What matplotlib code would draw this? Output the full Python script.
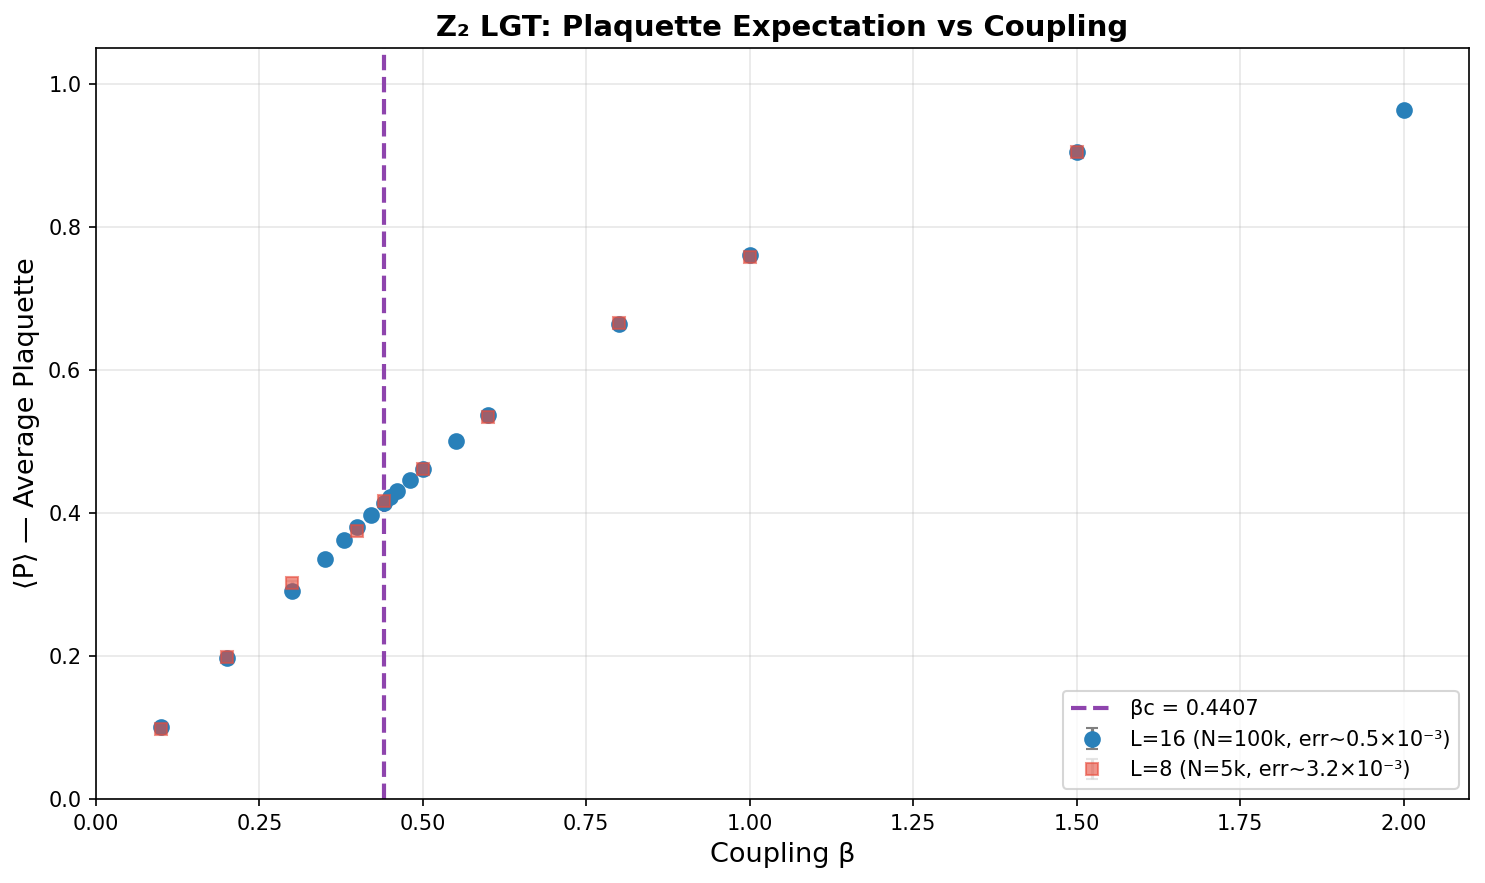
import numpy as np
import matplotlib
matplotlib.use("Agg")
import matplotlib.pyplot as plt

# L=16 data (N=100k)
beta_16 = [0.10, 0.20, 0.30, 0.35, 0.38, 0.40, 0.42, 0.44, 0.45, 0.46, 0.48, 0.50, 0.55, 0.60, 0.80, 1.00, 1.50, 2.00]
plaq_16 = [0.100, 0.197, 0.291, 0.336, 0.362, 0.380, 0.397, 0.414, 0.422, 0.431, 0.446, 0.462, 0.501, 0.537, 0.664, 0.761, 0.905, 0.964]
err_16 = 0.0005

# L=8 data (N=5k)
beta_8 = [0.10, 0.20, 0.30, 0.40, 0.44, 0.50, 0.60, 0.80, 1.00, 1.50]
plaq_8 = [0.098, 0.199, 0.302, 0.375, 0.417, 0.461, 0.534, 0.665, 0.758, 0.905]
err_8 = 0.0032

beta_c = 0.4407

fig = plt.figure(figsize=(9.9, 5.887), dpi=150)
ax = fig.add_axes([0.0646, 0.0951, 0.9246, 0.8505])

ax.axvline(beta_c, color='#8e44ad', ls='--', lw=2, label='βc = 0.4407')
ax.errorbar(beta_16, plaq_16, yerr=err_16, fmt='o', color='#2980b9', ms=7,
            ecolor='gray', capsize=3, label='L=16 (N=100k, err~0.5×10⁻³)')
ax.errorbar(beta_8, plaq_8, yerr=err_8, fmt='s', color='#e74c3c', ms=6,
            alpha=0.6, ecolor='lightgray', capsize=3, label='L=8 (N=5k, err~3.2×10⁻³)')

ax.set_xlim(0, 2.1)
ax.set_ylim(0, 1.05)
ax.set_xlabel('Coupling β', fontsize=13)
ax.set_ylabel('⟨P⟩ — Average Plaquette', fontsize=13)
ax.set_title('Z₂ LGT: Plaquette Expectation vs Coupling', fontsize=14, fontweight='bold')
ax.grid(alpha=0.3)
ax.legend(loc='lower right', fontsize=10)

fig.savefig('out.png', dpi=150)
